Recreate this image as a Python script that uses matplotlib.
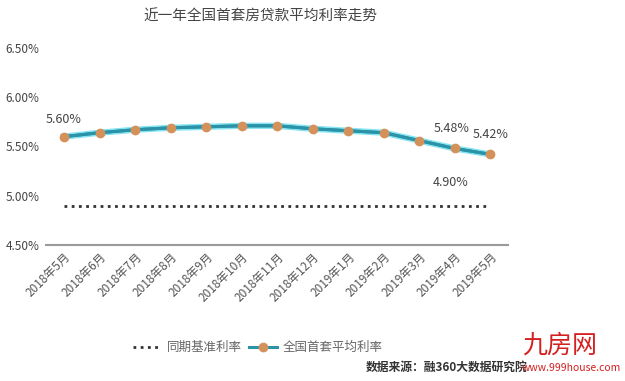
import matplotlib
matplotlib.use("Agg")
from matplotlib import pyplot as plt
from matplotlib.ticker import FuncFormatter
import matplotlib.patheffects as pe

plt.rcParams['font.family'] = ['Noto Sans CJK SC', 'DejaVu Sans']

months = ["2018年5月", "2018年6月", "2018年7月", "2018年8月", "2018年9月", "2018年10月",
          "2018年11月", "2018年12月", "2019年1月", "2019年2月", "2019年3月", "2019年4月", "2019年5月"]
avg_rate = [5.60, 5.64, 5.67, 5.69, 5.70, 5.71, 5.71, 5.68, 5.66, 5.64, 5.56, 5.48, 5.42]
base_rate = [4.90] * 13
y_ticks = [4.5, 5.0, 5.5, 6.0, 6.5]

fig = plt.figure(figsize=(6.25, 3.81), dpi=100)
ax = fig.add_axes([0.074, 0.357, 0.739, 0.517])
x = list(range(len(months)))

ax.plot(x, base_rate, linestyle=(0, (1, 1.6)), color="#333333", linewidth=2,
        label="同期基准利率")
# glow under the line, markers drawn on top without it
ax.plot(x, avg_rate, color="#2b93a8", linewidth=2.2,
        path_effects=[pe.Stroke(linewidth=4.5, foreground="#86e4f2"), pe.Normal()])
ax.plot(x, avg_rate, color="#2b93a8", linewidth=2.2, marker="o", markersize=6,
        markerfacecolor="#d4925a", markeredgecolor="#d4925a",
        label="全国首套平均利率")

ax.set_xlim(-0.5, len(months) - 0.5)
ax.set_ylim(4.5, 6.5)
ax.set_yticks(y_ticks)
ax.yaxis.set_major_formatter(FuncFormatter(lambda v, p: f"{v:.2f}%"))
ax.set_xticks(x)
ax.set_xticklabels(months, rotation=45, ha="right", rotation_mode="anchor",
                   fontsize=8.5, color="#555555")
ax.tick_params(axis="y", length=0, labelsize=8.5, labelcolor="#444444", pad=5)
ax.tick_params(axis="x", length=0, pad=4)
for side in ["top", "right", "left"]:
    ax.spines[side].set_visible(False)
ax.spines["bottom"].set_color("#9a9a9a")
ax.spines["bottom"].set_linewidth(1.5)

ax.annotate("5.60%", (0, avg_rate[0]), xytext=(0, 10), textcoords="offset points",
            ha="center", fontsize=9, color="#444444")
ax.annotate("5.48%", (11, avg_rate[11]), xytext=(-2, 12), textcoords="offset points",
            ha="center", fontsize=9, color="#444444")
ax.annotate("5.42%", (12, avg_rate[12]), xytext=(0, 12), textcoords="offset points",
            ha="center", fontsize=9, color="#444444")
ax.annotate("4.90%", (11, base_rate[11]), xytext=(-3, 14), textcoords="offset points",
            ha="center", fontsize=9, color="#444444")

fig.text(0.416, 0.955, "近一年全国首套房贷款平均利率走势", fontsize=10.5,
         color="#444444", ha="center", va="center")
fig.legend(loc="center", bbox_to_anchor=(0.413, 0.087), ncol=2, frameon=False,
           fontsize=9, handlelength=2.2, columnspacing=0.6, handletextpad=0.5,
           labelcolor="#666666")

fig.text(0.585, 0.02, "数据来源：融360大数据研究院", fontsize=8.5, fontweight="bold",
         color="#333333", va="bottom")
fig.text(0.835, 0.06, "九房网", fontsize=18, color="#d42020", va="bottom")
fig.text(0.835, 0.02, "www.999house.com", fontsize=7.5, color="#d42020", va="bottom")

plt.savefig("out.png", dpi=100)
